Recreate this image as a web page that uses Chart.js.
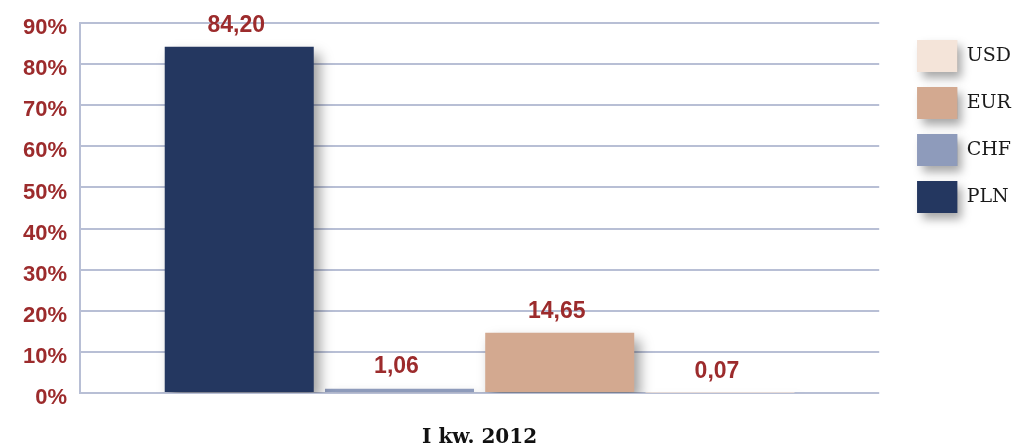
<!DOCTYPE html>
<html>
<head>
<meta charset="utf-8">
<script src="https://cdn.jsdelivr.net/npm/chart.js@4.4.1/dist/chart.umd.min.js"></script>
<style>
  html, body { margin: 0; padding: 0; background: #ffffff; }
  #wrap { width: 1021px; height: 446px; position: relative; }
</style>
</head>
<body>
<div id="wrap"><canvas id="c"></canvas></div>
<script>
// Currency structure of deposits, first quarter of 2012 (%)
const categories = ['I kw. 2012'];
const plnValues = [84.20];
const chfValues = [1.06];
const eurValues = [14.65];
const usdValues = [0.07];
const yTicks = [0, 10, 20, 30, 40, 50, 60, 70, 80, 90];

const labelRed = '#9c2b2c';
const gridBlue = '#b8bfd5';

// Soft drop shadow under the bars
const barShadow = {
  id: 'barShadow',
  beforeDatasetsDraw(chart) {
    const ctx = chart.ctx;
    ctx.save();
    ctx.shadowColor = 'rgba(0,0,0,0.38)';
    ctx.shadowBlur = 12;
    ctx.shadowOffsetX = 6;
    ctx.shadowOffsetY = 7;
  },
  afterDatasetsDraw(chart) {
    chart.ctx.restore();
  }
};

// Shadow behind the legend swatches (painted underneath what is already drawn)
const legendShadow = {
  id: 'legendShadow',
  afterDraw(chart) {
    const lg = chart.legend;
    if (!lg || !lg.legendHitBoxes) return;
    const ctx = chart.ctx;
    const bw = lg.options.labels.boxWidth, bh = lg.options.labels.boxHeight;
    ctx.save();
    ctx.globalCompositeOperation = 'destination-over';
    ctx.shadowColor = 'rgba(0,0,0,0.35)';
    ctx.shadowBlur = 9;
    ctx.shadowOffsetX = 5;
    ctx.shadowOffsetY = 6;
    lg.legendItems.forEach((item, i) => {
      const hb = lg.legendHitBoxes[i];
      ctx.fillStyle = item.fillStyle;
      ctx.fillRect(hb.left, hb.top, bw, bh);
    });
    ctx.restore();
  }
};

// Value labels above each bar
const valueLabels = {
  id: 'valueLabels',
  afterDatasetsDraw(chart) {
    const ctx = chart.ctx;
    ctx.save();
    ctx.font = 'bold 23px "Liberation Sans", Arial, sans-serif';
    ctx.fillStyle = labelRed;
    ctx.textAlign = 'center';
    ctx.textBaseline = 'bottom';
    chart.data.datasets.forEach((ds, di) => {
      const meta = chart.getDatasetMeta(di);
      meta.data.forEach((bar, i) => {
        const txt = ds.data[i].toFixed(2).replace('.', ',');
        ctx.fillText(txt, bar.x - 3, bar.y - 10);
      });
    });
    ctx.restore();
  }
};

new Chart(document.getElementById('c'), {
  type: 'bar',
  data: {
    labels: categories,
    datasets: [
      { label: 'PLN', data: plnValues, backgroundColor: '#243760' },
      { label: 'CHF', data: chfValues, backgroundColor: '#8e9bbb' },
      { label: 'EUR', data: eurValues, backgroundColor: '#d3a990' },
      { label: 'USD', data: usdValues, backgroundColor: '#f4e4d9' }
    ]
  },
  options: {
    responsive: true,
    maintainAspectRatio: false,
    animation: false,
    devicePixelRatio: 1,
    layout: { padding: { top: 23, left: 0, right: 0, bottom: 0 } },
    datasets: {
      bar: { categoryPercentage: 0.802, barPercentage: 0.93, borderWidth: 0 }
    },
    plugins: {
      tooltip: { enabled: false },
      legend: {
        position: 'right',
        align: 'start',
        reverse: true,
        title: { display: true, text: '', padding: 0, font: { size: 2, lineHeight: 1 } },
        labels: {
          boxWidth: 40,
          boxHeight: 32,
          padding: 15,
          color: '#1a1a1a',
          font: { family: '"DejaVu Serif", serif', size: 19 }
        }
      }
    },
    scales: {
      x: {
        grid: { display: false, drawTicks: false, tickLength: 0 },
        border: { display: false },
        afterFit(scale) { scale.height = 53; },
        ticks: {
          color: '#111111',
          padding: 35,
          font: { family: '"DejaVu Serif", serif', size: 20, weight: 'bold', lineHeight: 1 }
        }
      },
      y: {
        min: 0,
        max: 90,
        afterBuildTicks(scale) {
          scale.ticks = yTicks.map(v => ({ value: v }));
        },
        afterFit(scale) {
          scale.width = 80;
          scale.paddingTop = 0;
          scale.paddingBottom = 0;
        },
        grid: { color: gridBlue, lineWidth: 2, drawTicks: false },
        border: { display: true, color: gridBlue, width: 2 },
        ticks: {
          padding: 13,
          labelOffset: 5,
          color: labelRed,
          font: { family: '"Liberation Sans", Arial, sans-serif', size: 22, weight: 'bold' },
          callback: v => v + '%'
        }
      },
      yGap: {
        type: 'linear',
        position: 'right',
        display: true,
        grid: { display: false },
        border: { display: false },
        ticks: { display: false },
        afterFit(scale) { scale.width = 23; }
      }
    }
  },
  plugins: [barShadow, valueLabels, legendShadow]
});
</script>
</body>
</html>
